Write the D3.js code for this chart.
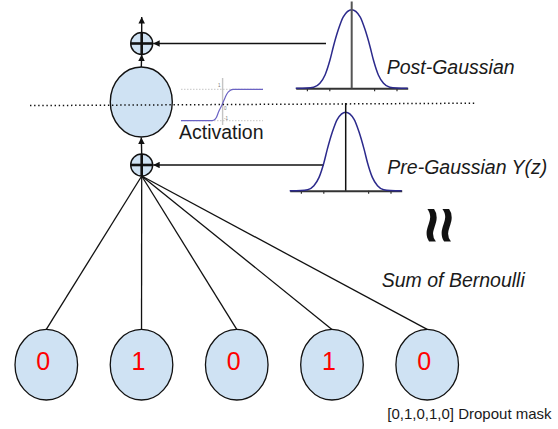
<!DOCTYPE html>
<html><head><meta charset="utf-8">
<script src="https://cdn.jsdelivr.net/npm/d3@7"></script>
<style>body{margin:0;background:#fff}svg{display:block}</style>
</head><body>
<svg id="c" width="558" height="429"></svg>
<script>
// ---- data ----
const inputMask = [0, 1, 0, 1, 0];
const gaussX = [-2.5, -2, -1.7, -1.42, -1.19, -0.97, -0.82, -0.6, -0.375, 0, 0.375, 0.6, 0.82, 0.97, 1.19, 1.42, 1.7, 2, 2.5];
const gaussY = [0, 0.003, 0.013, 0.064, 0.17, 0.36, 0.53, 0.745, 0.91, 1, 0.91, 0.745, 0.53, 0.36, 0.17, 0.064, 0.013, 0.003, 0];
const gaussTicks = [-2, -1, 1, 2];
const sigX = [-4, -1.1, -0.82, -0.55, -0.33, 0, 0.32, 0.55, 0.74, 0.95, 1.13, 4];
const sigY = [-1, -1, -0.97, -0.8, -0.43, 0, 0.5, 0.78, 0.9, 0.98, 1, 1];
const sigTickLabels = ["1", "0", "-1"];
const sigTickValues = [1, 0, -1];
const labels = ["Activation", "Post-Gaussian", "Pre-Gaussian Y(z)", "Sum of Bernoulli", "[0,1,0,1,0] Dropout mask"];

const svg = d3.select("#c");
const FONT = "'Liberation Sans', Arial, sans-serif";
const FILL = "#cfe2f3";
const INK = "#111";

// arrow marker
const defs = svg.append("defs");
defs.append("marker").attr("id", "ah").attr("viewBox", "0 0 10 10")
  .attr("refX", 10).attr("refY", 5).attr("markerWidth", 8).attr("markerHeight", 6.5)
  .attr("markerUnits", "userSpaceOnUse").attr("orient", "auto")
  .append("path").attr("d", "M0,0L10,5L0,10Z").attr("fill", INK);

// ---- input nodes ----
const nx = d3.scaleLinear().domain([0, inputMask.length - 1]).range([46.3, 427.2]);
const nodeCY = 364.7, nodeRX = 31.3, nodeRY = 35.3;
const sumC = {x: 141.7, y: 165, r: 11};
const outC = {x: 141.7, y: 43.5, r: 11};
const body = {x: 141.3, y: 102, rx: 31, ry: 35};

svg.append("g").selectAll("line").data(inputMask).join("line")
  .attr("x1", sumC.x).attr("y1", sumC.y + sumC.r)
  .attr("x2", (d, i) => nx(i)).attr("y2", nodeCY - nodeRY)
  .attr("stroke", INK).attr("stroke-width", 1.3);

const ng = svg.append("g").selectAll("g").data(inputMask).join("g");
ng.append("ellipse").attr("cx", (d, i) => nx(i)).attr("cy", nodeCY)
  .attr("rx", nodeRX).attr("ry", nodeRY).attr("fill", FILL).attr("stroke", INK).attr("stroke-width", 1.3);
ng.append("text").attr("x", (d, i) => nx(i) - 3).attr("y", nodeCY + 5)
  .attr("text-anchor", "middle").attr("font-family", FONT).attr("font-size", 25)
  .attr("fill", "#ff0000").text(d => d);

// ---- central neuron ----
svg.append("ellipse").attr("cx", body.x).attr("cy", body.y).attr("rx", body.rx).attr("ry", body.ry)
  .attr("fill", FILL).attr("stroke", INK).attr("stroke-width", 1.4);

function plusCircle(c) {
  const g = svg.append("g");
  g.append("circle").attr("cx", c.x).attr("cy", c.y).attr("r", c.r)
    .attr("fill", FILL).attr("stroke", INK).attr("stroke-width", 1.4);
  g.append("line").attr("x1", c.x - c.r).attr("x2", c.x + c.r).attr("y1", c.y).attr("y2", c.y)
    .attr("stroke", INK).attr("stroke-width", 2.6);
  g.append("line").attr("x1", c.x).attr("x2", c.x).attr("y1", c.y - c.r).attr("y2", c.y + c.r)
    .attr("stroke", INK).attr("stroke-width", 2.6);
}
plusCircle(sumC);
plusCircle(outC);

function arrow(x1, y1, x2, y2) {
  svg.append("line").attr("x1", x1).attr("y1", y1).attr("x2", x2).attr("y2", y2)
    .attr("stroke", INK).attr("stroke-width", 1.4).attr("marker-end", "url(#ah)");
}
arrow(outC.x, outC.y - outC.r, outC.x, 17);
arrow(body.x, body.y - body.ry, outC.x, outC.y + outC.r);
arrow(sumC.x, sumC.y - sumC.r, body.x, body.y + body.ry + 0.5);
arrow(326, outC.y, outC.x + outC.r + 0.5, outC.y);
arrow(324, sumC.y, sumC.x + sumC.r + 0.5, sumC.y);

// ---- activation (sigmoid) inset ----
const sx = d3.scaleLinear().domain([-4, 4]).range([181, 263]);
const sy = d3.scaleLinear().domain([-1, 1]).range([120.7, 89.3]);
const sg = svg.append("g");
sg.selectAll("line.grid").data([1, -1]).join("line").attr("class", "grid")
  .attr("x1", sx(-4)).attr("x2", sx(4)).attr("y1", d => sy(d)).attr("y2", d => sy(d))
  .attr("stroke", "#b8b8b8").attr("stroke-width", 0.8).attr("stroke-dasharray", "1.5,1.5");
sg.append("line").attr("x1", sx(0) + 0.6).attr("x2", sx(0) + 0.6).attr("y1", 78).attr("y2", 125)
  .attr("stroke", "#c4c4c4").attr("stroke-width", 1.4);
sg.selectAll("text").data(sigTickValues).join("text")
  .attr("x", (d, i) => sx(0) + (i === 0 ? -4 : 2)).attr("y", d => sy(d) + (d === 1 ? -2 : d === 0 ? 5 : -0.4))
  .attr("font-family", FONT).attr("font-size", 4.5).attr("fill", "#777")
  .text((d, i) => sigTickLabels[i]);
sg.append("path")
  .attr("d", d3.line().x((d, i) => sx(sigX[i])).y(d => sy(d)).curve(d3.curveMonotoneX)(sigY))
  .attr("fill", "none").attr("stroke", "#6b63c4").attr("stroke-width", 1.2);

// ---- dotted separation line ----
svg.append("line").attr("x1", 30).attr("y1", 105.6).attr("x2", 476).attr("y2", 103.2)
  .attr("stroke", INK).attr("stroke-width", 1.5).attr("stroke-dasharray", "1.4,2.7");

// ---- gaussians ----
function gaussian(cx, baseY, centerColor, centerWidth, centerTop) {
  const x = d3.scaleLinear().domain([-2.5, 2.5]).range([cx - 56, cx + 56]);
  const y = d3.scaleLinear().domain([0, 1]).range([baseY, baseY - 78.5]);
  const g = svg.append("g");
  const ax = g.append("g").attr("transform", `translate(0,${baseY})`)
    .call(d3.axisBottom(x).tickValues(gaussTicks).tickSize(3).tickSizeOuter(0).tickFormat(""));
  ax.select(".domain").attr("stroke", "#333").attr("stroke-width", 2);
  ax.selectAll(".tick line").attr("stroke", "#333").attr("stroke-width", 1.2);
  g.append("path")
    .attr("d", d3.line().x((d, i) => x(gaussX[i])).y(d => y(d)).curve(d3.curveMonotoneX)(gaussY))
    .attr("fill", "none").attr("stroke", "#2c2a8c").attr("stroke-width", 1.5);
  g.append("line").attr("x1", x(0)).attr("x2", x(0)).attr("y1", centerTop).attr("y2", baseY)
    .attr("stroke", centerColor).attr("stroke-width", centerWidth);
}
gaussian(351.7, 88.3, "#555", 2, 1.5);
gaussian(345.7, 190.7, "#111", 1.5, 103);

// ---- labels ----
function label(t, x, y, size, italic) {
  svg.append("text").attr("x", x).attr("y", y).attr("font-family", FONT)
    .attr("font-size", size).attr("font-style", italic ? "italic" : "normal")
    .attr("fill", "#1a1a1a").text(t);
}
label(labels[0], 179, 139, 19.5, false);
label(labels[1], 386.7, 74, 19.5, true);
label(labels[2], 387.3, 174, 19.5, true);
label(labels[3], 381.7, 287.3, 19.5, true);
label(labels[4], 387.3, 419.3, 15, false);

svg.append("text").attr("transform", "translate(440,225) rotate(90)")
  .attr("text-anchor", "middle").attr("dominant-baseline", "central")
  .attr("font-family", FONT).attr("font-size", 64).attr("font-weight", "bold")
  .attr("fill", INK).text("≈");
</script>
</body></html>
